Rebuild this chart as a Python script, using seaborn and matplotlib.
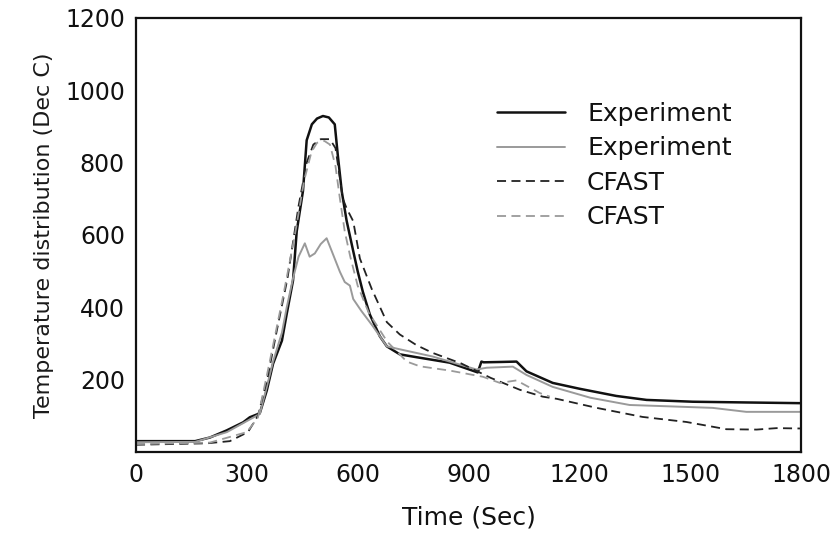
import matplotlib
matplotlib.use("Agg")
import matplotlib.pyplot as plt
import seaborn as sns
import pandas as pd

# ---- data ----
exp1_t = [0, 100, 160, 200, 246, 290, 308, 335, 354, 371, 395, 408, 425, 435, 452, 462, 476, 490, 506, 522, 538, 546,
          557, 570, 587, 600, 614, 633, 660, 679, 714, 760, 849, 925, 935, 941, 990, 1030, 1057, 1128, 1200, 1300,
          1382, 1507, 1650, 1800]
exp1_v = [30, 30, 30, 40, 60, 82, 96, 107, 170, 244, 308, 382, 474, 610, 722, 862, 906, 922, 929, 925, 906, 823,
          720, 640, 560, 500, 443, 380, 320, 292, 270, 262, 247, 220, 250, 248, 249, 250, 223, 191, 175, 155,
          144, 139, 137, 135]

exp2_t = [0, 160, 246, 308, 335, 354, 371, 395, 408, 425, 440, 457, 470, 484, 500, 516, 530, 552, 565, 579, 588,
          610, 641, 679, 714, 803, 922, 949, 1020, 1057, 1128, 1230, 1336, 1450, 1561, 1652, 1800]
exp2_v = [27, 28, 55, 90, 105, 180, 250, 330, 400, 480, 540, 577, 540, 549, 575, 591, 555, 498, 470, 460, 423,
          390, 348, 292, 284, 264, 228, 233, 236, 213, 180, 150, 130, 126, 122, 111, 111]

cf1_t = [0, 192, 254, 303, 330, 355, 380, 410, 440, 462, 480, 500, 525, 540, 560, 570, 588, 606, 638, 679, 714,
         760, 803, 880, 960, 1039, 1101, 1139, 1247, 1371, 1490, 1598, 1680, 1734, 1800]
cf1_v = [20, 24, 30, 55, 100, 200, 330, 480, 680, 800, 850, 865, 865, 840, 700, 674, 638, 535, 451, 359, 325,
         295, 274, 245, 205, 172, 153, 147, 122, 97, 83, 63, 62, 66, 65]

cf2_t = [0, 200, 300, 330, 360, 400, 430, 455, 475, 490, 510, 525, 540, 552, 565, 580, 600, 630, 680, 733, 768,
         850, 939, 985, 1030, 1093, 1120]
cf2_v = [22, 26, 55, 95, 240, 440, 600, 750, 830, 855, 860, 850, 790, 700, 610, 540, 460, 385, 305, 250, 237,
         225, 208, 191, 198, 163, 153]

series_labels = ["Experiment", "Experiment", "CFAST", "CFAST"]
x_ticks = [0, 300, 600, 900, 1200, 1500, 1800]
y_ticks = [200, 400, 600, 800, 1000, 1200]

sns.set_theme(style="white")
plt.rcParams['font.family'] = ['DejaVu Sans']

fig = plt.figure(figsize=(8.4, 5.34), dpi=100)
ax = fig.add_axes([136 / 840, 1 - 452 / 534, (801 - 136) / 840, (452 - 18) / 534])

styles = [
    dict(color="#111111", linewidth=1.8, linestyle="-"),
    dict(color="#9a9a9a", linewidth=1.4, linestyle="-"),
    dict(color="#222222", linewidth=1.3, linestyle=(0, (5, 3))),
    dict(color="#9a9a9a", linewidth=1.3, linestyle=(0, (5, 3))),
]
for (t, v), lab, st in zip([(exp1_t, exp1_v), (exp2_t, exp2_v), (cf1_t, cf1_v), (cf2_t, cf2_v)],
                           series_labels, styles):
    df = pd.DataFrame({"t": t, "v": v})
    sns.lineplot(data=df, x="t", y="v", ax=ax, label=lab, sort=False, estimator=None, **st)

ax.set_xlim(0, 1800)
ax.set_ylim(0, 1200)
ax.set_xticks(x_ticks)
ax.set_yticks(y_ticks)
ax.tick_params(direction="in", length=4, width=1.2, labelsize=17, colors="#111111", pad=8)
for s in ax.spines.values():
    s.set_visible(True)
    s.set_color("#111111")
    s.set_linewidth(1.6)

ax.set_xlabel("Time (Sec)", fontsize=18, color="#111111", labelpad=13)
ax.set_ylabel("Temperature distribution (Dec C)", fontsize=16, color="#1a1a1a", labelpad=8)

leg = ax.legend(loc="upper left", bbox_to_anchor=(497 / 840, 1 - 102 / 534), bbox_transform=fig.transFigure,
                frameon=False, fontsize=18, handlelength=2.7, handletextpad=0.9, labelspacing=0.42,
                borderpad=0, borderaxespad=0)
for txt in leg.get_texts():
    txt.set_color("#111111")

fig.savefig("out.png", dpi=100)
